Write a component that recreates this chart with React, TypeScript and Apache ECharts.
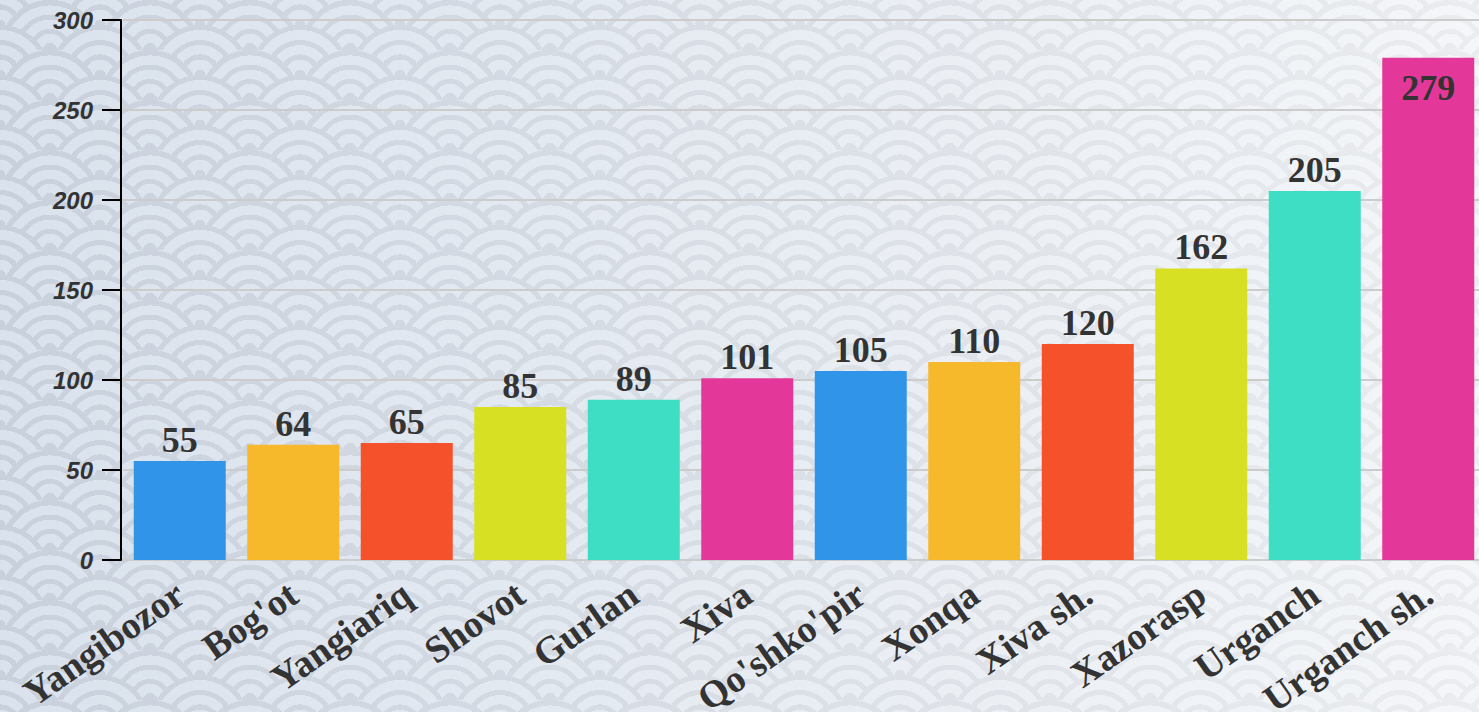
import React, { useEffect, useRef } from "react";
import * as echarts from "echarts";

const categories = [
  "Yangibozor", "Bog'ot", "Yangiariq", "Shovot", "Gurlan", "Xiva",
  "Qo'shko'pir", "Xonqa", "Xiva sh.", "Xazorasp", "Urganch", "Urganch sh.",
];
const values = [55, 64, 65, 85, 89, 101, 105, 110, 120, 162, 205, 279];
const palette = ["#3094e9", "#f6b92b", "#f5512b", "#d7e022", "#3ddec4", "#e3389a"];
const yTicks = { min: 0, max: 300, interval: 50 };

const L = "#e4e9ef";
const G = "#cbd0d7";
const ring1 = `${L} 24%, ${G} 24%, ${G} 28%, ${L} 28%, ${L} 36%, ${G} 36%, ${G} 40%, transparent 40%, transparent`;
const ring2 = `${G} 10%, ${L} 10%, ${L} 23%, ${G} 23%, ${G} 30%, ${L} 30%, ${L} 43%, ${G} 43%, ${G} 50%, ${L} 50%, ${L} 63%, ${G} 63%, ${G} 71%, transparent 71%, transparent`;
const ring3 = `${G} 5%, ${L} 5%, ${L} 15%, ${G} 15%, ${G} 20%, ${L} 20%, ${L} 29%, ${G} 29%, ${G} 34%, ${L} 34%, ${L} 40%, transparent 40%, transparent`;

const bgImage = [
  "linear-gradient(to right, rgba(195,210,232,0.3), rgba(255,255,255,0.6))",
  `radial-gradient(circle at 100% 150%, ${ring1})`,
  `radial-gradient(circle at 0 150%, ${ring1})`,
  `radial-gradient(circle at 50% 100%, ${ring2})`,
  `radial-gradient(circle at 100% 50%, ${ring3})`,
  `radial-gradient(circle at 0 50%, ${ring3})`,
].join(", ");

export default function App() {
  const ref = useRef<HTMLDivElement>(null);
  useEffect(() => {
    if (!ref.current) return;
    const chart = echarts.init(ref.current, undefined, { renderer: "svg" });
    const serif = "'Liberation Serif', 'Times New Roman', serif";
    chart.setOption({
      animation: false,
      backgroundColor: "transparent",
      grid: {
        left: 123, right: 15, top: 20, bottom: 152,
        containLabel: false, outerBoundsMode: "none",
      },
      xAxis: {
        type: "category",
        data: categories,
        axisLine: { show: true, lineStyle: { color: "#cccccc", width: 2 } },
        axisTick: { show: false },
        axisLabel: {
          rotate: 35,
          margin: 30,
          interval: 0,
          color: "#333333",
          fontFamily: serif,
          fontWeight: "bold",
          fontSize: 38,
        },
      },
      yAxis: {
        type: "value",
        min: yTicks.min,
        max: yTicks.max,
        interval: yTicks.interval,
        offset: 2,
        axisLine: { show: true, lineStyle: { color: "#000000", width: 2 } },
        axisTick: { show: true, length: 19, lineStyle: { color: "#000000", width: 2 } },
        axisLabel: {
          margin: 28,
          padding: [10, 0, 0, 0],
          color: "#333333",
          fontFamily: "'Liberation Sans', Arial, sans-serif",
          fontWeight: "bold",
          fontStyle: "italic",
          fontSize: 24,
        },
        splitLine: { show: true, lineStyle: { color: "#cccccc", width: 2 } },
      },
      series: [
        {
          type: "bar",
          barWidth: 92,
          data: values.map((v, i) => ({
            value: v,
            itemStyle: { color: palette[i % palette.length] },
            label: i === values.length - 1 ? { position: "insideTop", distance: 12 } : undefined,
          })),
          label: {
            show: true,
            position: "top",
            distance: 3,
            color: "#333333",
            fontFamily: serif,
            fontWeight: "bold",
            fontSize: 36,
          },
        },
      ],
    });
    return () => chart.dispose();
  }, []);
  return (
    <div
      style={{
        position: "fixed",
        left: 0,
        top: 0,
        width: 1479,
        height: 712,
        overflow: "hidden",
        backgroundColor: L,
        backgroundImage: bgImage,
        backgroundSize: "100% 100%, 100px 50px, 100px 50px, 100px 50px, 100px 50px, 100px 50px",
      }}
    >
      <div ref={ref} style={{ width: 1500, height: 712 }} />
    </div>
  );
}
